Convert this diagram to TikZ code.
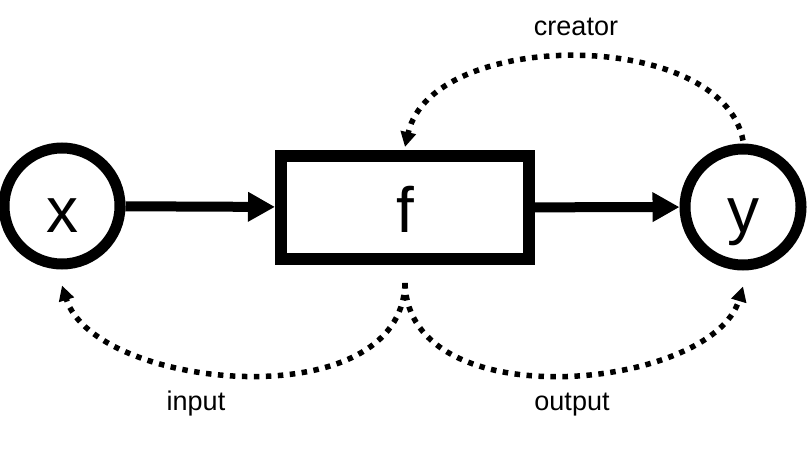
\documentclass[tikz,border=0pt]{standalone}
\usepackage{fontspec}
\setmainfont{Liberation Sans}
\usetikzlibrary{arrows.meta}
\begin{document}
\begin{tikzpicture}[x=1pt,y=-1pt,
  varnode/.style={circle,draw,line width=11pt,minimum size=116pt,inner sep=0pt,
    font=\fontsize{64}{70}\selectfont,text depth=8pt},
  funcnode/.style={rectangle,draw,line width=12pt,minimum width=248pt,minimum height=103pt,inner sep=0pt,
    font=\fontsize{64}{70}\selectfont,text height=57pt,text depth=8pt},
  mainarrow/.style={line width=10pt,-{Triangle[length=27pt,width=28pt]}},
  refarrow/.style={line width=5.5pt,dash pattern=on 5.5pt off 6.5pt,-{Triangle[length=15pt,width=15pt]}},
  lbl/.style={font=\fontsize{27}{32}\selectfont,anchor=base,inner sep=0pt}]
\useasboundingbox (0,0) rectangle (808,460);
\node[varnode,text height=60pt] (x) at (62,206) {x};
\node[funcnode] (f) at (405,207.5) {f};
\node[varnode,text height=58pt] (y) at (743,207) {y};
\draw[mainarrow] (x) -- (f);
\draw[mainarrow] (f) -- (y);
\draw[refarrow] ([yshift=3pt]y.north) .. controls (722,28) and (432,28) .. ([yshift=3pt]f.north);
\draw[refarrow] ([yshift=-18pt]f.south) .. controls (402,420) and (95,390) .. ([yshift=-16pt]x.south);
\draw[refarrow] ([yshift=-18pt]f.south) .. controls (408,420) and (712,390) .. ([yshift=-16pt]y.south);
\node[lbl] (creator) at (576,36) {creator};
\node[lbl] (input) at (196,410) {input};
\node[lbl] (output) at (572,410) {output};
\end{tikzpicture}
\end{document}
